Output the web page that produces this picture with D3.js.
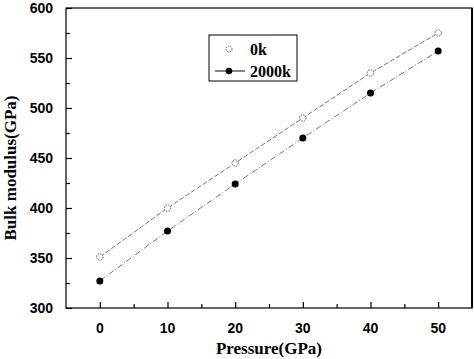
<!DOCTYPE html>
<html>
<head>
<meta charset="utf-8">
<script src="https://cdn.jsdelivr.net/npm/d3@7"></script>
<style>
  body { margin: 0; background: #fff; }
</style>
</head>
<body>
<div id="chart"></div>
<script>
const pressure = [0, 10, 20, 30, 40, 50];
const bulk0k = [351, 400, 445, 490, 535, 575];
const bulk2000k = [327, 377, 424, 470, 515, 557];
const xTicks = [0, 10, 20, 30, 40, 50];
const yTicks = [300, 350, 400, 450, 500, 550, 600];

const width = 474, height = 359;
const m = {left: 66, top: 8, right: 2, bottom: 51};

const svg = d3.select('#chart').append('svg')
  .attr('width', width).attr('height', height);

const x = d3.scaleLinear().domain([-5, 55]).range([m.left, width - m.right]);
const y = d3.scaleLinear().domain([300, 600]).range([height - m.bottom, m.top]);

// frame
svg.append('rect')
  .attr('x', x(-5)).attr('y', y(600))
  .attr('width', x(55) - x(-5)).attr('height', y(300) - y(600))
  .attr('fill', 'none').attr('stroke', '#000').attr('stroke-width', 1.2);
svg.append('line')
  .attr('x1', x(55)).attr('x2', x(55)).attr('y1', y(600)).attr('y2', y(300))
  .attr('stroke', '#000').attr('stroke-width', 2);

// x axis, ticks inward
const xAxis = svg.append('g')
  .attr('transform', `translate(0,${y(300)})`)
  .call(d3.axisBottom(x).tickValues(d3.range(0, 55, 5)).tickSize(-5).tickFormat(''));
xAxis.select('.domain').remove();
xAxis.selectAll('.tick line').attr('stroke', '#000').attr('stroke-width', 1.2)
  .attr('y2', d => d % 10 === 0 ? -6 : -4);

svg.append('g').selectAll('text')
  .data(xTicks).enter().append('text')
  .attr('x', d => x(d)).attr('y', y(300) + 25)
  .attr('text-anchor', 'middle')
  .attr('font-family', 'Liberation Sans, Arial, sans-serif')
  .attr('font-weight', 700).attr('font-size', 14)
  .text(d => d);

// y axis, ticks inward
const yAxis = svg.append('g')
  .attr('transform', `translate(${x(-5)},0)`)
  .call(d3.axisLeft(y).tickValues(d3.range(300, 601, 25)).tickSize(-5).tickFormat(''));
yAxis.select('.domain').remove();
yAxis.selectAll('.tick line').attr('stroke', '#000').attr('stroke-width', 1.2)
  .attr('x2', d => d % 50 === 0 ? 6 : 4);

svg.append('g').selectAll('text')
  .data(yTicks).enter().append('text')
  .attr('x', 53).attr('y', d => y(d) + 5)
  .attr('text-anchor', 'end')
  .attr('font-family', 'Liberation Sans, Arial, sans-serif')
  .attr('font-weight', 700).attr('font-size', 14)
  .text(d => d);

// axis titles
svg.append('text')
  .attr('x', 269).attr('y', 354)
  .attr('text-anchor', 'middle')
  .attr('font-family', 'Liberation Serif, Times New Roman, serif')
  .attr('font-weight', 700).attr('font-size', 17)
  .text('Pressure(GPa)');

svg.append('text')
  .attr('transform', 'translate(16,168) rotate(-90)')
  .attr('text-anchor', 'middle')
  .attr('font-family', 'Liberation Serif, Times New Roman, serif')
  .attr('font-weight', 700).attr('font-size', 17)
  .text('Bulk modulus(GPa)');

// series
const line = d3.line().x(d => x(d[0])).y(d => y(d[1]));
const s0 = pressure.map((p, i) => [p, bulk0k[i]]);
const s1 = pressure.map((p, i) => [p, bulk2000k[i]]);

svg.append('path').datum(s0).attr('d', line)
  .attr('fill', 'none').attr('stroke', '#777').attr('stroke-width', 1)
  .attr('stroke-dasharray', '5,2');
svg.append('path').datum(s1).attr('d', line)
  .attr('fill', 'none').attr('stroke', '#777').attr('stroke-width', 1)
  .attr('stroke-dasharray', '6,2,1,2');

svg.append('g').selectAll('circle')
  .data(s0).enter().append('circle')
  .attr('cx', d => x(d[0])).attr('cy', d => y(d[1])).attr('r', 3.2)
  .attr('fill', '#fff').attr('stroke', '#555').attr('stroke-width', 0.9)
  .attr('stroke-dasharray', '1.5,1');
svg.append('g').selectAll('circle')
  .data(s1).enter().append('circle')
  .attr('cx', d => x(d[0])).attr('cy', d => y(d[1])).attr('r', 3.5)
  .attr('fill', '#000');

// legend
const lg = svg.append('g');
lg.append('rect').attr('x', 209).attr('y', 35).attr('width', 88).attr('height', 46)
  .attr('fill', '#fff').attr('stroke', '#000').attr('stroke-width', 1);
lg.append('circle').attr('cx', 229).attr('cy', 49).attr('r', 3)
  .attr('fill', '#fff').attr('stroke', '#555').attr('stroke-width', 0.9)
  .attr('stroke-dasharray', '1.5,1');
lg.append('line').attr('x1', 215).attr('x2', 245).attr('y1', 71).attr('y2', 71)
  .attr('stroke', '#333').attr('stroke-width', 1.2);
lg.append('circle').attr('cx', 229).attr('cy', 71).attr('r', 3.3).attr('fill', '#000');
lg.selectAll('text.lbl').data(['0k', '2000k']).enter().append('text')
  .attr('x', 250).attr('y', (d, i) => 55 + i * 22)
  .attr('font-family', 'Liberation Serif, Times New Roman, serif')
  .attr('font-weight', 700).attr('font-size', 16)
  .text(d => d);
</script>
</body>
</html>
